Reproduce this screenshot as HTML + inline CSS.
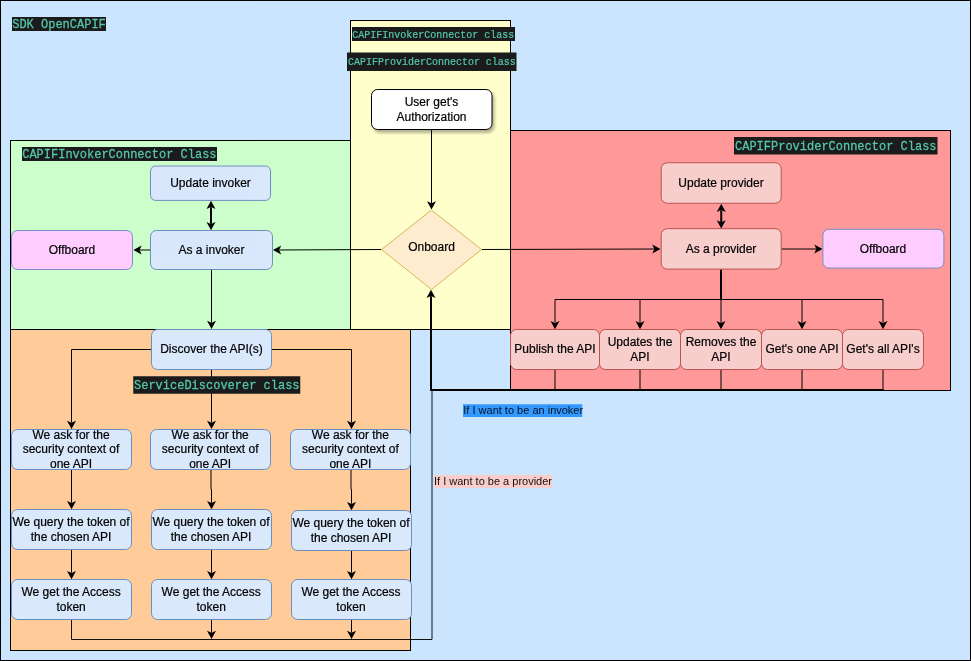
<!DOCTYPE html>
<html>
<head>
<meta charset="utf-8">
<title>SDK OpenCAPIF</title>
<style>
  html, body { margin: 0; padding: 0; background: #cce5ff; }
  body { width: 971px; height: 661px; overflow: hidden; }
  svg { display: block; will-change: transform; opacity: 0.999; }
  .t { font-family: "Liberation Sans", sans-serif; font-size: 12px; fill: #000; text-anchor: middle; stroke: #000; stroke-width: 0.2px; }
  .m12 { font-family: "Liberation Mono", monospace; font-size: 12px; fill: #55c8ab; stroke: #55c8ab; stroke-width: 0.25px; }
  .m10 { font-family: "Liberation Mono", monospace; font-size: 10px; fill: #55c8ab; stroke: #55c8ab; stroke-width: 0.2px; }
  .s11 { font-family: "Liberation Sans", sans-serif; font-size: 11px; }
  .bb { fill: #dae8fc; stroke: #6c8ebf; stroke-width: 1; }
  .pb { fill: #f8cecc; stroke: #b85450; stroke-width: 1; }
  .ob { fill: #ffccff; stroke: #7a8cc4; stroke-width: 1; }
</style>
</head>
<body>
<svg width="971" height="661" viewBox="0 0 971 661">
  <defs>
    <filter id="sh" x="-10%" y="-10%" width="130%" height="140%">
      <feGaussianBlur in="SourceAlpha" stdDeviation="1.4"/>
      <feOffset dx="2" dy="3" result="o"/>
      <feComponentTransfer><feFuncA type="linear" slope="0.3"/></feComponentTransfer>
      <feMerge><feMergeNode/><feMergeNode in="SourceGraphic"/></feMerge>
    </filter>
  </defs>

  <!-- outer background -->
  <rect x="0.5" y="0.5" width="970" height="660" fill="#cce5ff" stroke="#000" stroke-width="1"/>

  <!-- containers -->
  <rect x="10.5" y="140.5" width="340" height="189" fill="#ccffcc" stroke="#000"/>
  <rect x="350.5" y="20.5" width="160" height="309" fill="#ffffcc" stroke="#000"/>
  <rect x="510.5" y="130.5" width="440" height="260" fill="#ff9999" stroke="#000"/>
  <rect x="10.5" y="329.5" width="400" height="321" fill="#ffcc99" stroke="#000"/>

  <!-- ===== edges ===== -->
  <path d="M431.50 129.50 L431.50 203.00" fill="none" stroke="#000" stroke-width="1" stroke-miterlimit="10" />
  <path d="M431.50 209.50 L427.00 201.30 L431.50 203.30 L436.00 201.30 Z" fill="#000"/>
  <path d="M381.50 249.50 L279.50 249.97" fill="none" stroke="#000" stroke-width="1" stroke-miterlimit="10" />
  <path d="M273.00 250.00 L281.18 245.46 L279.20 249.97 L281.22 254.46 Z" fill="#000"/>
  <path d="M150.50 250.00 L139.90 250.00" fill="none" stroke="#000" stroke-width="1" stroke-miterlimit="10" />
  <path d="M133.40 250.00 L141.60 245.50 L139.60 250.00 L141.60 254.50 Z" fill="#000"/>
  <path d="M211.00 223.75 L211.00 207.25" fill="none" stroke="#000" stroke-width="2" stroke-miterlimit="10" />
  <path d="M211.00 200.75 L215.50 208.95 L211.00 206.95 L206.50 208.95 Z" fill="#000"/>
  <path d="M211.00 230.25 L206.50 222.05 L211.00 224.05 L215.50 222.05 Z" fill="#000"/>
  <path d="M211.50 269.50 L211.50 322.50" fill="none" stroke="#000" stroke-width="1" stroke-miterlimit="10" />
  <path d="M211.50 329.00 L207.00 320.80 L211.50 322.80 L216.00 320.80 Z" fill="#000"/>
  <path d="M481.50 249.50 L654.00 249.02" fill="none" stroke="#000" stroke-width="1" stroke-miterlimit="10" />
  <path d="M660.50 249.00 L652.31 253.52 L654.30 249.02 L652.29 244.52 Z" fill="#000"/>
  <path d="M781.50 249.00 L816.00 249.00" fill="none" stroke="#000" stroke-width="1" stroke-miterlimit="10" />
  <path d="M822.50 249.00 L814.30 253.50 L816.30 249.00 L814.30 244.50 Z" fill="#000"/>
  <path d="M721.25 222.00 L721.25 210.25" fill="none" stroke="#000" stroke-width="2" stroke-miterlimit="10" />
  <path d="M721.25 203.75 L725.75 211.95 L721.25 209.95 L716.75 211.95 Z" fill="#000"/>
  <path d="M721.25 228.50 L716.75 220.30 L721.25 222.30 L725.75 220.30 Z" fill="#000"/>
  <path d="M721.00 269.50 L721.00 299.50" fill="none" stroke="#000" stroke-width="2" stroke-miterlimit="10" />
  <path d="M555.00 299.50 L883.00 299.50" fill="none" stroke="#000" stroke-width="1" stroke-miterlimit="10" />
  <path d="M555.00 299.50 L555.00 322.75" fill="none" stroke="#000" stroke-width="1" stroke-miterlimit="10" />
  <path d="M555.00 329.25 L550.50 321.05 L555.00 323.05 L559.50 321.05 Z" fill="#000"/>
  <path d="M640.00 299.50 L640.00 322.75" fill="none" stroke="#000" stroke-width="1" stroke-miterlimit="10" />
  <path d="M640.00 329.25 L635.50 321.05 L640.00 323.05 L644.50 321.05 Z" fill="#000"/>
  <path d="M721.00 299.50 L721.00 322.75" fill="none" stroke="#000" stroke-width="1" stroke-miterlimit="10" />
  <path d="M721.00 329.25 L716.50 321.05 L721.00 323.05 L725.50 321.05 Z" fill="#000"/>
  <path d="M802.00 299.50 L802.00 322.75" fill="none" stroke="#000" stroke-width="1" stroke-miterlimit="10" />
  <path d="M802.00 329.25 L797.50 321.05 L802.00 323.05 L806.50 321.05 Z" fill="#000"/>
  <path d="M883.00 299.50 L883.00 322.75" fill="none" stroke="#000" stroke-width="1" stroke-miterlimit="10" />
  <path d="M883.00 329.25 L878.50 321.05 L883.00 323.05 L887.50 321.05 Z" fill="#000"/>
  <path d="M555.00 369.50 L555.00 390.00" fill="none" stroke="#000" stroke-width="1" stroke-miterlimit="10" />
  <path d="M640.00 369.50 L640.00 390.00" fill="none" stroke="#000" stroke-width="1" stroke-miterlimit="10" />
  <path d="M721.00 369.50 L721.00 390.00" fill="none" stroke="#000" stroke-width="1" stroke-miterlimit="10" />
  <path d="M802.00 369.50 L802.00 390.00" fill="none" stroke="#000" stroke-width="1" stroke-miterlimit="10" />
  <path d="M883.00 369.50 L883.00 390.00" fill="none" stroke="#000" stroke-width="1" stroke-miterlimit="10" />
  <path d="M883.50 390.00 L431.00 390.00 L431.00 296.30" fill="none" stroke="#000" stroke-width="2" stroke-miterlimit="10" />
  <path d="M431.00 289.80 L435.50 298.00 L431.00 296.00 L426.50 298.00 Z" fill="#000"/>
  <path d="M151.50 349.50 L71.50 349.50 L71.50 422.50" fill="none" stroke="#000" stroke-width="1" stroke-miterlimit="10" />
  <path d="M71.50 429.00 L67.00 420.80 L71.50 422.80 L76.00 420.80 Z" fill="#000"/>
  <path d="M211.50 369.50 L211.50 422.50" fill="none" stroke="#000" stroke-width="1" stroke-miterlimit="10" />
  <path d="M211.50 429.00 L207.00 420.80 L211.50 422.80 L216.00 420.80 Z" fill="#000"/>
  <path d="M272.00 349.50 L351.50 349.50 L351.50 422.50" fill="none" stroke="#000" stroke-width="1" stroke-miterlimit="10" />
  <path d="M351.50 429.00 L347.00 420.80 L351.50 422.80 L356.00 420.80 Z" fill="#000"/>
  <path d="M71.50 469.50 L71.50 502.75" fill="none" stroke="#000" stroke-width="1" stroke-miterlimit="10" />
  <path d="M71.50 509.25 L67.00 501.05 L71.50 503.05 L76.00 501.05 Z" fill="#000"/>
  <path d="M211.00 469.50 L211.00 489.50 L211.50 489.50 L211.50 502.75" fill="none" stroke="#000" stroke-width="1" stroke-miterlimit="10" />
  <path d="M211.50 509.25 L207.00 501.05 L211.50 503.05 L216.00 501.05 Z" fill="#000"/>
  <path d="M351.00 469.50 L351.00 489.50 L351.50 489.50 L351.50 503.75" fill="none" stroke="#000" stroke-width="1" stroke-miterlimit="10" />
  <path d="M351.50 510.25 L347.00 502.05 L351.50 504.05 L356.00 502.05 Z" fill="#000"/>
  <path d="M71.50 549.50 L71.50 572.75" fill="none" stroke="#000" stroke-width="1" stroke-miterlimit="10" />
  <path d="M71.50 579.25 L67.00 571.05 L71.50 573.05 L76.00 571.05 Z" fill="#000"/>
  <path d="M211.50 549.50 L211.50 572.75" fill="none" stroke="#000" stroke-width="1" stroke-miterlimit="10" />
  <path d="M211.50 579.25 L207.00 571.05 L211.50 573.05 L216.00 571.05 Z" fill="#000"/>
  <path d="M351.50 550.50 L351.50 572.75" fill="none" stroke="#000" stroke-width="1" stroke-miterlimit="10" />
  <path d="M351.50 579.25 L347.00 571.05 L351.50 573.05 L356.00 571.05 Z" fill="#000"/>
  <path d="M71.50 619.50 L71.50 639.50 L432.00 639.50 L432.00 390.00" fill="none" stroke="#111" stroke-width="1" stroke-miterlimit="10" />
  <path d="M211.50 619.50 L211.50 632.50" fill="none" stroke="#000" stroke-width="1" stroke-miterlimit="10" />
  <path d="M211.50 639.00 L207.00 630.80 L211.50 632.80 L216.00 630.80 Z" fill="#000"/>
  <path d="M351.50 619.50 L351.50 632.50" fill="none" stroke="#000" stroke-width="1" stroke-miterlimit="10" />
  <path d="M351.50 639.00 L347.00 630.80 L351.50 632.80 L356.00 630.80 Z" fill="#000"/>

  <!-- ===== nodes ===== -->
  <rect x="371.5" y="89.5" width="120.5" height="40" rx="6" ry="6" fill="#fff" stroke="#000" filter="url(#sh)"/>
  <text class="t" x="431.5" y="105.5">User get's</text>
  <text class="t" x="431.5" y="121">Authorization</text>
  <path d="M431.5 210 L481.5 249.5 L431.5 289.5 L381.5 249.5 Z" fill="#feecce" stroke="#d6b656"/>
  <text class="t" x="431.5" y="251">Onboard</text>
  <rect class="bb" x="150.5" y="166" width="120" height="34.4" rx="5" />
  <text class="t" x="210.5" y="186.60">Update invoker</text>
  <rect class="bb" x="150.5" y="230.5" width="122" height="39" rx="6" />
  <text class="t" x="211.5" y="254.10">As a invoker</text>
  <rect class="ob" x="11.5" y="230.5" width="121" height="39" rx="6" />
  <text class="t" x="72" y="254.10">Offboard</text>
  <rect class="bb" x="151.5" y="329.5" width="120" height="40" rx="6" />
  <text class="t" x="211.5" y="353.10">Discover the API(s)</text>
  <rect class="bb" x="11.5" y="429.5" width="120" height="40" rx="6" />
  <text class="t" x="71" y="438.70">We ask for the</text>
  <text class="t" x="71" y="453.10">security context of</text>
  <text class="t" x="71" y="467.50">one API</text>
  <rect class="bb" x="150.5" y="429.5" width="120" height="40" rx="6" />
  <text class="t" x="210.2" y="438.70">We ask for the</text>
  <text class="t" x="210.2" y="453.10">security context of</text>
  <text class="t" x="210.2" y="467.50">one API</text>
  <rect class="bb" x="290.5" y="429.5" width="120" height="40" rx="6" />
  <text class="t" x="350.4" y="438.70">We ask for the</text>
  <text class="t" x="350.4" y="453.10">security context of</text>
  <text class="t" x="350.4" y="467.50">one API</text>
  <rect class="bb" x="11.5" y="509.5" width="120" height="40" rx="6" />
  <text class="t" x="71" y="526.20">We query the token of</text>
  <text class="t" x="71" y="540.60">the chosen API</text>
  <rect class="bb" x="151.5" y="509.5" width="120" height="40" rx="6" />
  <text class="t" x="211" y="526.20">We query the token of</text>
  <text class="t" x="211" y="540.60">the chosen API</text>
  <rect class="bb" x="291.5" y="510.5" width="120" height="40" rx="6" />
  <text class="t" x="351" y="527.20">We query the token of</text>
  <text class="t" x="351" y="541.60">the chosen API</text>
  <rect class="bb" x="11.5" y="579.5" width="120" height="40" rx="6" />
  <text class="t" x="71.1" y="596.20">We get the Access</text>
  <text class="t" x="71.1" y="610.60">token</text>
  <rect class="bb" x="151.5" y="579.5" width="120" height="40" rx="6" />
  <text class="t" x="211.2" y="596.20">We get the Access</text>
  <text class="t" x="211.2" y="610.60">token</text>
  <rect class="bb" x="291.5" y="579.5" width="120" height="40" rx="6" />
  <text class="t" x="351" y="596.20">We get the Access</text>
  <text class="t" x="351" y="610.60">token</text>
  <rect class="pb" x="661.2" y="162.75" width="120" height="40.5" rx="6" />
  <text class="t" x="721" y="187.00">Update provider</text>
  <rect class="pb" x="661.2" y="228.7" width="120" height="40.4" rx="6" />
  <text class="t" x="721" y="253.00">As a provider</text>
  <rect class="ob" x="822.9" y="229.3" width="121" height="38.8" rx="6" />
  <text class="t" x="883" y="252.75">Offboard</text>
  <rect class="pb" x="510.5" y="329.5" width="89" height="40" rx="6" />
  <text class="t" x="555" y="353.00">Publish the API</text>
  <rect class="pb" x="599.5" y="329.5" width="81" height="40" rx="6" />
  <text class="t" x="640" y="346.30">Updates the</text>
  <text class="t" x="640" y="360.70">API</text>
  <rect class="pb" x="680.5" y="329.5" width="81" height="40" rx="6" />
  <text class="t" x="721" y="346.30">Removes the</text>
  <text class="t" x="721" y="360.70">API</text>
  <rect class="pb" x="761.5" y="329.5" width="81" height="40" rx="6" />
  <text class="t" x="802" y="353.00">Get's one API</text>
  <rect class="pb" x="842.5" y="329.5" width="81" height="40" rx="6" />
  <text class="t" x="883" y="353.00">Get's all API's</text>

  <!-- ===== code labels ===== -->
  <rect x="12" y="17" width="94" height="14" fill="#1b1b1b"/>
  <text class="m12" transform="translate(12.2,28) scale(1,1.1)">SDK OpenCAPIF</text>
  <rect x="22" y="147" width="195" height="14" fill="#1b1b1b"/>
  <text class="m12" transform="translate(22.2,158) scale(1,1.1)">CAPIFInvokerConnector Class</text>
  <rect x="352" y="27" width="163" height="14" fill="#1b1b1b"/>
  <text class="m10" transform="translate(352.3,37.5) scale(1,1.1)">CAPIFInvokerConnector class</text>
  <rect x="347" y="52.5" width="169.5" height="18.5" fill="#1b1b1b"/>
  <text class="m10" transform="translate(348,64.5) scale(1,1.1)">CAPIFProviderConnector class</text>
  <rect x="734" y="137" width="203.5" height="17.5" fill="#1b1b1b"/>
  <text class="m12" transform="translate(735,150) scale(1,1.1)">CAPIFProviderConnector Class</text>
  <rect x="133.25" y="376.25" width="167" height="17.5" fill="#1b1b1b"/>
  <text class="m12" transform="translate(134,388.75) scale(1,1.1)">ServiceDiscoverer class</text>

  <!-- edge labels -->
  <rect x="463" y="404.25" width="119.25" height="12.75" fill="#3399ff"/>
  <text class="s11" x="463.3" y="414.3" fill="#051226">If I want to be an invoker</text>
  <rect x="433.75" y="475" width="118.25" height="13" fill="#f8cecc"/>
  <text class="s11" x="434" y="485.3" fill="#1a0f0f">If I want to be a provider</text>
</svg>
</body>
</html>
